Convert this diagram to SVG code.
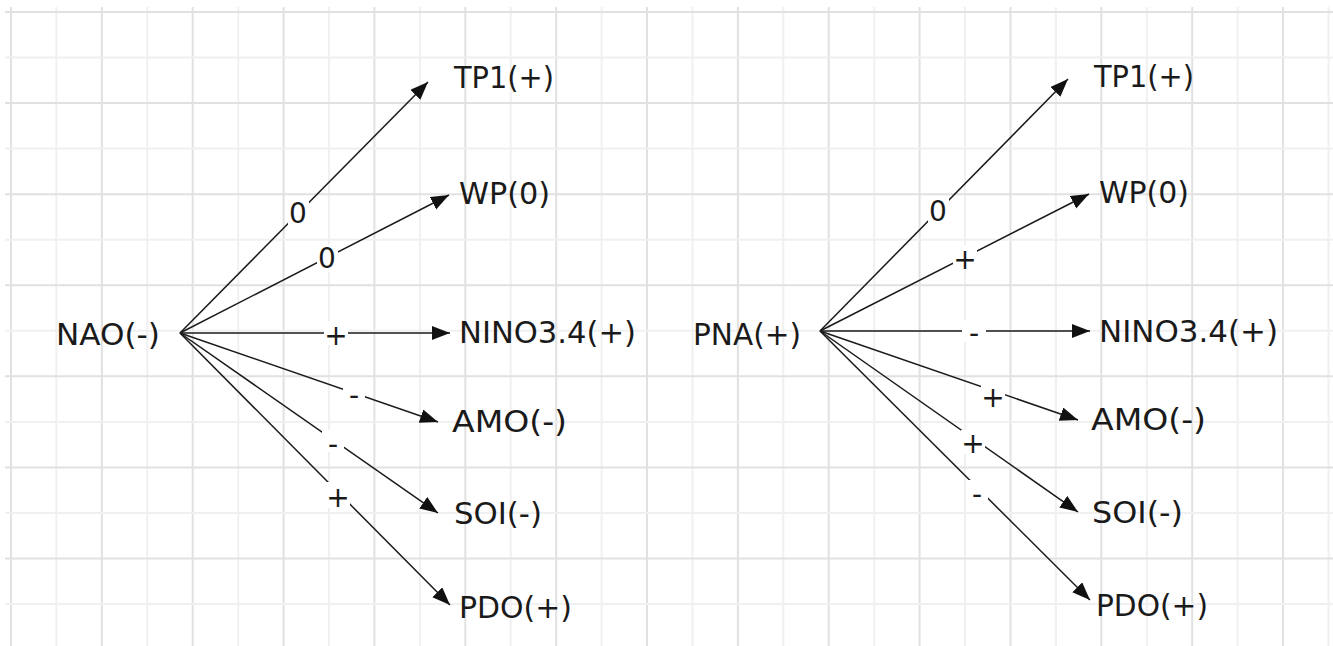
<svg xmlns="http://www.w3.org/2000/svg" width="1333" height="646" viewBox="0 0 1333 646">
<style>
.maj{stroke:#e1e1e1;stroke-width:2}
.min{stroke:#f0f0f0;stroke-width:2}
.node{font-family:"DejaVu Sans",sans-serif;font-size:30px;fill:#1a1a1a}
.lbl{font-family:"DejaVu Sans",sans-serif;font-size:28px;fill:#1a1a1a;text-anchor:middle}
.edge{stroke:#1a1a1a;stroke-width:1.5;fill:none;marker-end:url(#ah)}
.gap{fill:#ffffff}
</style>
<defs>
<marker id="ah" markerUnits="userSpaceOnUse" markerWidth="19" markerHeight="15" refX="18" refY="7" orient="auto">
<path d="M0,0 L18,7 L0,14 Z" fill="#111"/>
</marker>
</defs>
<rect width="1333" height="646" fill="#ffffff"/>
<g id="grid">
<line class="maj" x1="11" y1="7" x2="11" y2="646"/>
<line class="min" x1="56.4" y1="7" x2="56.4" y2="646"/>
<line class="maj" x1="101.9" y1="7" x2="101.9" y2="646"/>
<line class="min" x1="147.3" y1="7" x2="147.3" y2="646"/>
<line class="maj" x1="192.7" y1="7" x2="192.7" y2="646"/>
<line class="min" x1="238.2" y1="7" x2="238.2" y2="646"/>
<line class="maj" x1="283.6" y1="7" x2="283.6" y2="646"/>
<line class="min" x1="329" y1="7" x2="329" y2="646"/>
<line class="maj" x1="374.4" y1="7" x2="374.4" y2="646"/>
<line class="min" x1="419.9" y1="7" x2="419.9" y2="646"/>
<line class="maj" x1="465.3" y1="7" x2="465.3" y2="646"/>
<line class="min" x1="510.7" y1="7" x2="510.7" y2="646"/>
<line class="maj" x1="556.2" y1="7" x2="556.2" y2="646"/>
<line class="min" x1="601.6" y1="7" x2="601.6" y2="646"/>
<line class="maj" x1="647" y1="7" x2="647" y2="646"/>
<line class="min" x1="692.5" y1="7" x2="692.5" y2="646"/>
<line class="maj" x1="737.9" y1="7" x2="737.9" y2="646"/>
<line class="min" x1="783.3" y1="7" x2="783.3" y2="646"/>
<line class="maj" x1="828.7" y1="7" x2="828.7" y2="646"/>
<line class="min" x1="874.2" y1="7" x2="874.2" y2="646"/>
<line class="maj" x1="919.6" y1="7" x2="919.6" y2="646"/>
<line class="min" x1="965" y1="7" x2="965" y2="646"/>
<line class="maj" x1="1010.5" y1="7" x2="1010.5" y2="646"/>
<line class="min" x1="1055.9" y1="7" x2="1055.9" y2="646"/>
<line class="maj" x1="1101.3" y1="7" x2="1101.3" y2="646"/>
<line class="min" x1="1146.8" y1="7" x2="1146.8" y2="646"/>
<line class="maj" x1="1192.2" y1="7" x2="1192.2" y2="646"/>
<line class="min" x1="1237.6" y1="7" x2="1237.6" y2="646"/>
<line class="maj" x1="1283" y1="7" x2="1283" y2="646"/>
<line class="min" x1="1328.5" y1="7" x2="1328.5" y2="646"/>
<line class="maj" x1="5" y1="12" x2="1333" y2="12"/>
<line class="min" x1="5" y1="57.5" x2="1333" y2="57.5"/>
<line class="maj" x1="5" y1="103.1" x2="1333" y2="103.1"/>
<line class="min" x1="5" y1="148.6" x2="1333" y2="148.6"/>
<line class="maj" x1="5" y1="194.2" x2="1333" y2="194.2"/>
<line class="min" x1="5" y1="239.7" x2="1333" y2="239.7"/>
<line class="maj" x1="5" y1="285.2" x2="1333" y2="285.2"/>
<line class="min" x1="5" y1="330.8" x2="1333" y2="330.8"/>
<line class="maj" x1="5" y1="376.3" x2="1333" y2="376.3"/>
<line class="min" x1="5" y1="421.9" x2="1333" y2="421.9"/>
<line class="maj" x1="5" y1="467.4" x2="1333" y2="467.4"/>
<line class="min" x1="5" y1="512.9" x2="1333" y2="512.9"/>
<line class="maj" x1="5" y1="558.5" x2="1333" y2="558.5"/>
<line class="min" x1="5" y1="604" x2="1333" y2="604"/>
</g>
<g id="connectors">
<line class="edge" x1="180" y1="333" x2="428" y2="82"/>
<line class="edge" x1="180" y1="333" x2="449" y2="195"/>
<line class="edge" x1="180" y1="333" x2="450" y2="333"/>
<line class="edge" x1="180" y1="333" x2="438" y2="422"/>
<line class="edge" x1="180" y1="333" x2="438" y2="513"/>
<line class="edge" x1="180" y1="333" x2="450" y2="605"/>
<line class="edge" x1="820" y1="331" x2="1068" y2="79"/>
<line class="edge" x1="820" y1="331" x2="1089" y2="194"/>
<line class="edge" x1="820" y1="331" x2="1090" y2="331"/>
<line class="edge" x1="820" y1="331" x2="1078" y2="420"/>
<line class="edge" x1="820" y1="331" x2="1078" y2="512"/>
<line class="edge" x1="820" y1="331" x2="1090" y2="600"/>
<g id="edge-labels">
<rect class="gap" x="288" y="199" width="21" height="28"/>
<text class="lbl" x="298" y="223">0</text>
<rect class="gap" x="317" y="244" width="21" height="28"/>
<text class="lbl" x="327" y="268">0</text>
<rect class="gap" x="324" y="321" width="24" height="24"/>
<text class="lbl" x="336" y="345">+</text>
<rect class="gap" x="343" y="382" width="22" height="22"/>
<text class="lbl" x="354" y="405">-</text>
<rect class="gap" x="322" y="430" width="22" height="22"/>
<text class="lbl" x="333" y="454">-</text>
<rect class="gap" x="326" y="482" width="24" height="26"/>
<text class="lbl" x="338" y="507">+</text>
<rect class="gap" x="928" y="197" width="21" height="28"/>
<text class="lbl" x="938" y="221">0</text>
<rect class="gap" x="953" y="245" width="24" height="24"/>
<text class="lbl" x="965" y="269">+</text>
<rect class="gap" x="962" y="320" width="24" height="22"/>
<text class="lbl" x="974" y="343">-</text>
<rect class="gap" x="981" y="384" width="24" height="24"/>
<text class="lbl" x="993" y="407">+</text>
<rect class="gap" x="961" y="430" width="24" height="24"/>
<text class="lbl" x="973" y="453">+</text>
<rect class="gap" x="966" y="480" width="22" height="22"/>
<text class="lbl" x="977" y="504">-</text>
</g>
</g>
<g id="NAO"><text class="node" x="56" y="345" textLength="104" lengthAdjust="spacingAndGlyphs">NAO(-)</text></g>
<g id="TP1-left"><text class="node" x="454" y="88" textLength="100" lengthAdjust="spacingAndGlyphs">TP1(+)</text></g>
<g id="WP-left"><text class="node" x="459" y="204" textLength="91" lengthAdjust="spacingAndGlyphs">WP(0)</text></g>
<g id="NINO-left"><text class="node" x="459" y="343" textLength="177" lengthAdjust="spacingAndGlyphs">NINO3.4(+)</text></g>
<g id="AMO-left"><text class="node" x="452" y="432" textLength="115" lengthAdjust="spacingAndGlyphs">AMO(-)</text></g>
<g id="SOI-left"><text class="node" x="454" y="524" textLength="88" lengthAdjust="spacingAndGlyphs">SOI(-)</text></g>
<g id="PDO-left"><text class="node" x="459" y="618" textLength="113" lengthAdjust="spacingAndGlyphs">PDO(+)</text></g>
<g id="PNA"><text class="node" x="693" y="345" textLength="108" lengthAdjust="spacingAndGlyphs">PNA(+)</text></g>
<g id="TP1-right"><text class="node" x="1094" y="87" textLength="100" lengthAdjust="spacingAndGlyphs">TP1(+)</text></g>
<g id="WP-right"><text class="node" x="1099" y="203" textLength="90" lengthAdjust="spacingAndGlyphs">WP(0)</text></g>
<g id="NINO-right"><text class="node" x="1099" y="342" textLength="179" lengthAdjust="spacingAndGlyphs">NINO3.4(+)</text></g>
<g id="AMO-right"><text class="node" x="1091" y="430" textLength="115" lengthAdjust="spacingAndGlyphs">AMO(-)</text></g>
<g id="SOI-right"><text class="node" x="1092" y="523" textLength="91" lengthAdjust="spacingAndGlyphs">SOI(-)</text></g>
<g id="PDO-right"><text class="node" x="1096" y="616" textLength="112" lengthAdjust="spacingAndGlyphs">PDO(+)</text></g>
</svg>
